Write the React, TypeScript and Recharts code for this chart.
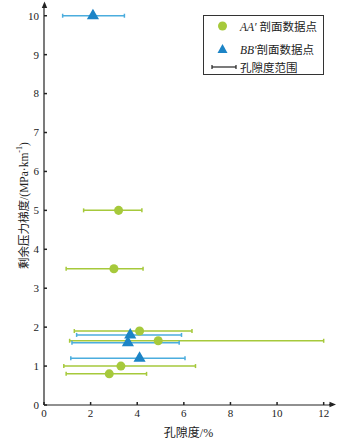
import {
  ScatterChart,
  Scatter,
  XAxis,
  YAxis,
  ZAxis,
  ErrorBar,
} from "recharts";

// AA' profile
const aaPorosity = [3.2, 3.0, 4.1, 4.9, 3.3, 2.8];
const aaGradient = [5.0, 3.5, 1.9, 1.65, 1.0, 0.8];
const aaMin = [1.7, 0.95, 1.3, 1.1, 0.85, 0.95];
const aaMax = [4.2, 4.25, 6.35, 12.0, 6.5, 4.4];

// BB' profile
const bbPorosity = [2.1, 3.7, 3.6, 4.1];
const bbGradient = [10.0, 1.8, 1.6, 1.2];
const bbMin = [0.8, 1.4, 1.2, 1.15];
const bbMax = [3.45, 5.9, 5.8, 6.05];

const xTicks = [0, 2, 4, 6, 8, 10, 12];
const yTicks = [0, 1, 2, 3, 4, 5, 6, 7, 8, 9, 10];

const GREEN = "#a6c93b";
const BLUE = "#1c84c6";
const LIGHT_BLUE = "#4badde";
const FONT = '"Liberation Serif", "Times New Roman", "Noto Sans CJK SC", serif';

const build = (xs: number[], ys: number[], lo: number[], hi: number[]) =>
  xs.map((x, i) => ({ x, y: ys[i], err: [x - lo[i], hi[i] - x] }));

const aaData = build(aaPorosity, aaGradient, aaMin, aaMax);
const bbData = build(bbPorosity, bbGradient, bbMin, bbMax);

const tickStyle = { fontSize: 11, fill: "#222", fontFamily: FONT };

function YLabel(props: any) {
  const vb = props.viewBox || {};
  const cy = vb.y + vb.height / 2;
  const cx = 24;
  return (
    <text
      x={cx}
      y={cy}
      transform={`rotate(-90, ${cx}, ${cy})`}
      textAnchor="middle"
      dominantBaseline="central"
      fontSize={11.5}
      fill="#222"
      fontFamily={FONT}
    >
      剩余压力梯度/(MPa·km
      <tspan baselineShift="super" fontSize={8}>-1</tspan>
      <tspan>)</tspan>
    </text>
  );
}

function Legend() {
  return (
    <div
      style={{
        position: "absolute",
        left: 203,
        top: 15,
        width: 119,
        height: 58,
        border: "1px solid #333",
        fontFamily: FONT,
        fontSize: 11.5,
        color: "#222",
      }}
    >
      <svg width={40} height={58} style={{ position: "absolute", left: 0, top: 0 }}>
        <circle cx={18.5} cy={10} r={4.5} fill={GREEN} />
        <polygon points="18.5,28 13.5,37 23.5,37" fill={BLUE} />
        <line x1={8} x2={32} y1={51} y2={51} stroke="#222" strokeWidth={1.2} />
        <line x1={8} x2={8} y1={49} y2={53} stroke="#222" strokeWidth={1.2} />
        <line x1={32} x2={32} y1={49} y2={53} stroke="#222" strokeWidth={1.2} />
      </svg>
      <div style={{ position: "absolute", left: 36, top: 2, whiteSpace: "nowrap" }}>
        <i>AA′</i> 剖面数据点
      </div>
      <div style={{ position: "absolute", left: 36, top: 25, whiteSpace: "nowrap" }}>
        <i>BB′</i>剖面数据点
      </div>
      <div style={{ position: "absolute", left: 36, top: 43, whiteSpace: "nowrap" }}>
        孔隙度范围
      </div>
    </div>
  );
}

// arrowheads at the axis ends
function AxisArrows() {
  return (
    <svg width={353} height={442} style={{ position: "absolute", left: 0, top: 0, pointerEvents: "none" }}>
      <line x1={44.5} x2={44.5} y1={4} y2={8} stroke="#222" strokeWidth={1.2} />
      <polygon points="44.5,1.5 41.8,8 47.2,8" fill="#222" />
      <line x1={329} x2={333} y1={404.5} y2={404.5} stroke="#222" strokeWidth={1.2} />
      <polygon points="336,404.5 329.5,401.8 329.5,407.2" fill="#222" />
    </svg>
  );
}

export default function App() {
  return (
    <div style={{ position: "absolute", left: 0, top: 0, width: 353, height: 442, background: "#fff" }}>
      <ScatterChart
        width={353}
        height={442}
        margin={{ top: 6, right: 20, bottom: 0, left: 0 }}
      >
        <XAxis
          type="number"
          dataKey="x"
          domain={[0, 12.4]}
          ticks={xTicks}
          allowDataOverflow
          height={37}
          tickSize={-3}
          tickMargin={7}
          tick={tickStyle}
          axisLine={{ stroke: "#222", strokeWidth: 1.2 }}
          tickLine={{ stroke: "#222", strokeWidth: 1.5 }}
          label={{
            value: "孔隙度/%",
            position: "insideBottom",
            offset: 5,
            style: { fontSize: 12, fill: "#222", fontFamily: FONT },
          }}
        />
        <YAxis
          type="number"
          dataKey="y"
          domain={[0, 10.25]}
          ticks={yTicks}
          allowDataOverflow
          width={44}
          tickSize={-3}
          tickMargin={8}
          tick={tickStyle}
          axisLine={{ stroke: "#222", strokeWidth: 1.2 }}
          tickLine={{ stroke: "#222", strokeWidth: 1.5 }}
          label={<YLabel />}
        />
        <ZAxis zAxisId="aa" range={[75, 75]} />
        <ZAxis zAxisId="bb" range={[50, 50]} />
        <Scatter
          name="AA′ 剖面数据点"
          data={aaData}
          zAxisId="aa"
          fill={GREEN}
          shape="circle"
          isAnimationActive={false}
        >
          <ErrorBar dataKey="err" direction="x" width={2} stroke={GREEN} strokeWidth={1.5} />
        </Scatter>
        <Scatter
          name="BB′ 剖面数据点"
          data={bbData}
          zAxisId="bb"
          fill={BLUE}
          shape="triangle"
          isAnimationActive={false}
        >
          <ErrorBar dataKey="err" direction="x" width={2} stroke={LIGHT_BLUE} strokeWidth={1.5} />
        </Scatter>
      </ScatterChart>
      <AxisArrows />
      <Legend />
    </div>
  );
}
